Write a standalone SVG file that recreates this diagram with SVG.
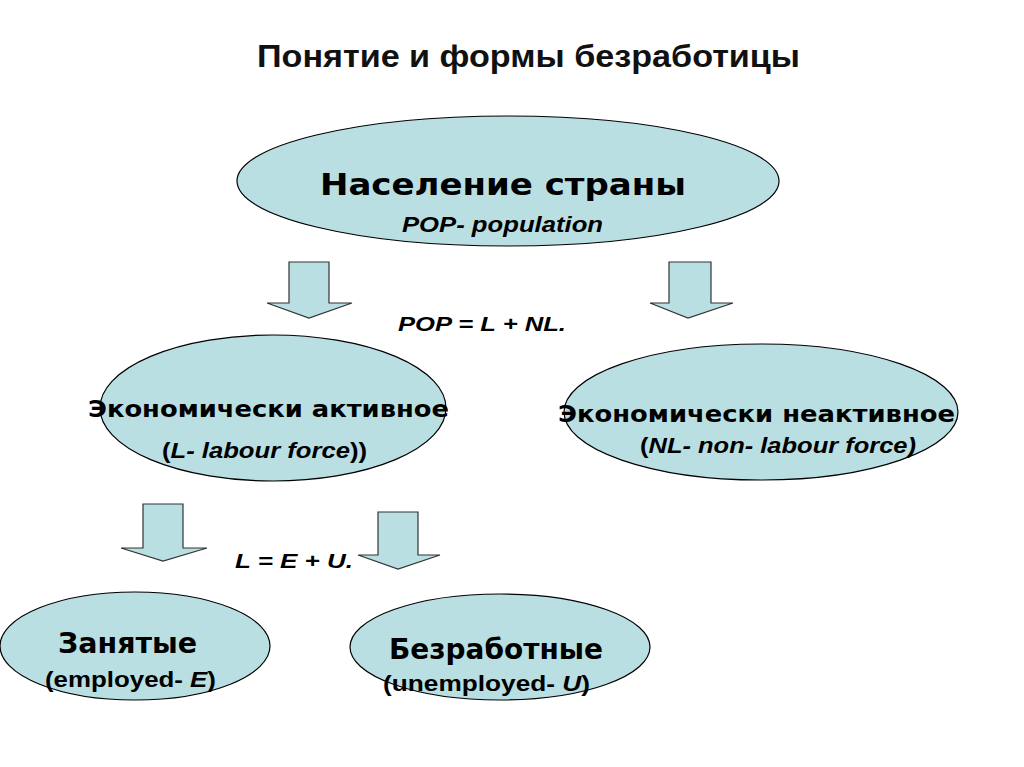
<svg xmlns="http://www.w3.org/2000/svg" width="1024" height="767" viewBox="0 0 1024 767">
<style>
.node{fill:#B9DFE2;stroke:#000;stroke-width:1.2}
.arr{fill:#B9DFE2;stroke:#333;stroke-width:1.2}
.ttl{font-family:"Liberation Sans",Arial,sans-serif;font-weight:bold;fill:#111}
.big{font-family:"DejaVu Sans","Liberation Sans",sans-serif;font-weight:bold;fill:#000}
.sub{font-family:"Liberation Sans",Arial,sans-serif;font-weight:bold;fill:#000}
.it{font-style:italic}
</style>
<rect width="1024" height="767" fill="#fff"/>
<text class="ttl" x="257" y="67" font-size="32" textLength="543" lengthAdjust="spacingAndGlyphs">Понятие и формы безработицы</text>

<g id="connectors">
<path class="arr" d="M289,262 H329 V303 H352 L309,318 L267,303 H289 Z"/>
<path class="arr" d="M669,262 H711 V303 H733 L688,318 L650,303 H669 Z"/>
<path class="arr" d="M143,504 H183 V548 H207 L163,561 L121,548 H143 Z"/>
<path class="arr" d="M378,512 H418 V555 H440 L398,569 L358,555 H378 Z"/>
<text class="sub it" x="398" y="331" font-size="21" textLength="168" lengthAdjust="spacingAndGlyphs">POP = L + NL.</text>
<text class="sub it" x="235" y="568" font-size="21" textLength="118" lengthAdjust="spacingAndGlyphs">L = E + U.</text>
</g>

<g id="population">
<ellipse class="node" cx="508" cy="181" rx="271" ry="65"/>
<text class="big" x="320" y="195" font-size="31" textLength="366" lengthAdjust="spacingAndGlyphs">Население страны</text>
<text class="sub it" x="402" y="232" font-size="22" textLength="201" lengthAdjust="spacingAndGlyphs">POP- population</text>
</g>

<g id="active">
<ellipse class="node" cx="273" cy="408" rx="173" ry="73"/>
<text class="big" x="88" y="417" font-size="23" textLength="361" lengthAdjust="spacingAndGlyphs">Экономически активное</text>
<text class="sub" x="162" y="458" font-size="22" textLength="205" lengthAdjust="spacingAndGlyphs">(<tspan class="it">L- labour force</tspan>))</text>
</g>

<g id="inactive">
<ellipse class="node" cx="761" cy="412" rx="197" ry="68"/>
<text class="big" x="558" y="422" font-size="23" textLength="397" lengthAdjust="spacingAndGlyphs">Экономически неактивное</text>
<text class="sub" x="640" y="453" font-size="22" textLength="276" lengthAdjust="spacingAndGlyphs">(<tspan class="it">NL- non- labour force)</tspan></text>
</g>

<g id="employed">
<ellipse class="node" cx="135" cy="646" rx="135" ry="54"/>
<text class="big" x="58" y="653" font-size="28" textLength="139" lengthAdjust="spacingAndGlyphs">Занятые</text>
<text class="sub" x="45" y="687" font-size="22" textLength="171" lengthAdjust="spacingAndGlyphs">(employed- <tspan class="it">E</tspan>)</text>
</g>

<g id="unemployed">
<ellipse class="node" cx="500" cy="647" rx="150" ry="53"/>
<text class="big" x="389" y="659" font-size="28" textLength="214" lengthAdjust="spacingAndGlyphs">Безработные</text>
<text class="sub" x="383" y="691" font-size="22" textLength="207" lengthAdjust="spacingAndGlyphs">(unemployed-  <tspan class="it">U</tspan>)</text>
</g>
</svg>
